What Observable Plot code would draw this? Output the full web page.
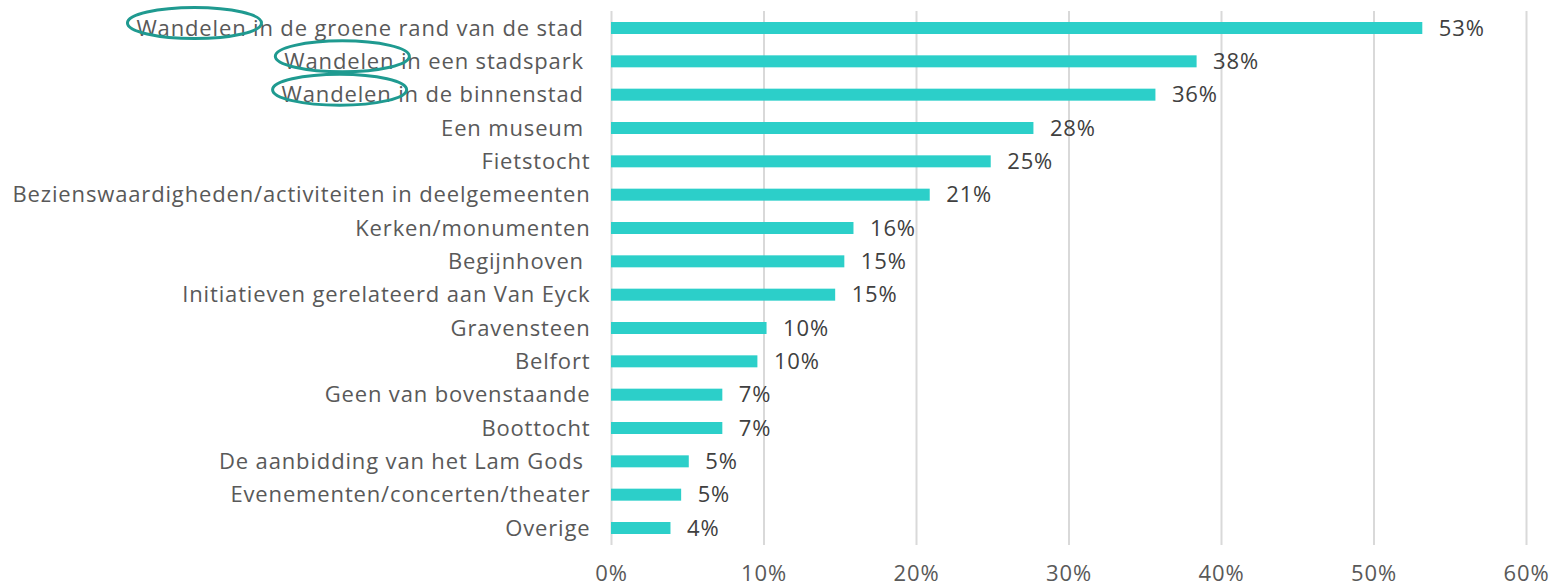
<!DOCTYPE html>
<html>
<head>
<meta charset="utf-8">
<script src="https://cdn.jsdelivr.net/npm/d3@7"></script>
<script src="https://cdn.jsdelivr.net/npm/@observablehq/plot@0.6"></script>
<style>
  html, body { margin: 0; padding: 0; background: #ffffff; }
  #chart svg text { white-space: pre; letter-spacing: 0.85px; }
</style>
</head>
<body>
<div id="chart"></div>
<script>
const categories = [
  "Wandelen in de groene rand van de stad ",
  "Wandelen in een stadspark ",
  "Wandelen in de binnenstad ",
  "Een museum ",
  "Fietstocht",
  "Bezienswaardigheden/activiteiten in deelgemeenten",
  "Kerken/monumenten",
  "Begijnhoven ",
  "Initiatieven gerelateerd aan Van Eyck",
  "Gravensteen",
  "Belfort",
  "Geen van bovenstaande",
  "Boottocht",
  "De aanbidding van het Lam Gods ",
  "Evenementen/concerten/theater",
  "Overige"
];
const values = [0.532, 0.384, 0.357, 0.277, 0.249, 0.209, 0.159, 0.153, 0.147, 0.102, 0.096, 0.073, 0.073, 0.051, 0.046, 0.039];
const xTicks = [0, 0.1, 0.2, 0.3, 0.4, 0.5, 0.6];
const highlightWord = "Wandelen";
const highlighted = [0, 1, 2];

const data = categories.map((c, i) => ({category: c, value: values[i]}));
const FONT = "'Open Sans', sans-serif";

const chart = Plot.plot({
  width: 1552,
  height: 587,
  marginTop: 11,
  marginBottom: 42,
  marginLeft: 611,
  marginRight: 26,
  style: {fontFamily: FONT, fontSize: "22px", background: "#ffffff"},
  x: {domain: [0, 0.6], ticks: xTicks, tickFormat: d3.format(".0%"), label: null},
  y: {domain: categories, paddingInner: 0.64, paddingOuter: 0.33, align: 0.5, round: false, label: null},
  marks: [
    Plot.ruleX(xTicks, {stroke: "#d9d9d9", strokeWidth: 2}),
    Plot.barX(data, {x: "value", y: "category", fill: "#2ccfc9"}),
    Plot.text(data, {x: "value", y: "category", text: d => d3.format(".0%")(d.value), textAnchor: "start", dx: 16, fill: "#404040", fontSize: 22}),
    Plot.axisY({tickSize: 0, tickPadding: 21, fill: "#595959", fontSize: 22, label: null}),
    Plot.axisX({ticks: xTicks, tickFormat: d3.format(".0%"), tickSize: 0, tickPadding: 20, fill: "#595959", fontSize: 22, label: null})
  ]
});
document.getElementById("chart").appendChild(chart);

// Annotation ellipses around the highlighted word, positioned from rendered labels and the y scale
const yScale = chart.scale("y");
const yAxisTexts = Array.from(chart.querySelectorAll("g[aria-label='y-axis tick label'] text"));
const svg = d3.select(chart);
const annot = svg.append("g").attr("aria-label", "annotations");
yAxisTexts.forEach(t => {
  t.setAttributeNS("http://www.w3.org/XML/1998/namespace", "xml:space", "preserve");
});
yAxisTexts.forEach(t => {
  const label = t.textContent;
  const idx = categories.indexOf(label);
  if (!highlighted.includes(idx)) return;
  const n = highlightWord.length;
  const start = t.getStartPositionOfChar(0);
  const end = t.getEndPositionOfChar(n - 1);
  const ctm = t.getCTM();
  const sx = start.x + ctm.e, ex = end.x + ctm.e;
  const cy = yScale.apply(label) + yScale.bandwidth / 2;
  annot.append("ellipse")
    .attr("cx", (sx + ex) / 2 + 3)
    .attr("cy", cy - 5)
    .attr("rx", (ex - sx) / 2 + 12)
    .attr("ry", 15.5)
    .attr("fill", "none")
    .attr("stroke", "#1f9a90")
    .attr("stroke-width", 3);
});
</script>
</body>
</html>
